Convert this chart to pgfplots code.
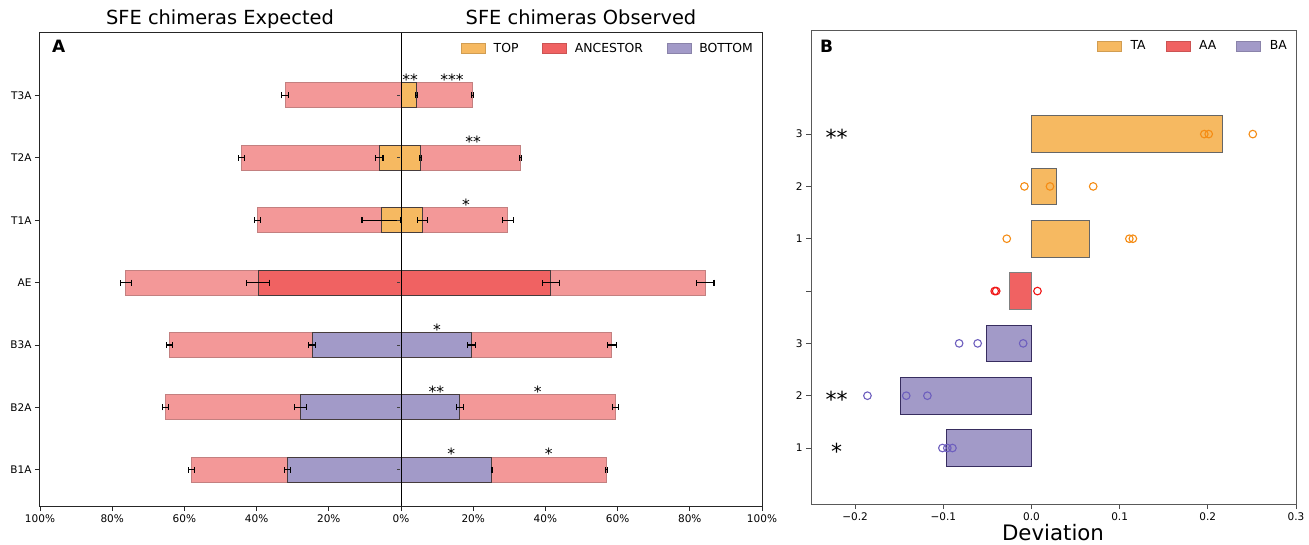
\documentclass[border=0pt]{standalone}
\usepackage{fontspec}
\setmainfont{DejaVu Sans}
\usepackage{pgfplots}
\pgfplotsset{compat=1.18}
\definecolor{pinkc}{RGB}{243,152,152}
\definecolor{pinkedge}{RGB}{195,128,128}
\definecolor{redc}{RGB}{240,98,98}
\definecolor{orangec}{RGB}{246,185,97}
\definecolor{purplec}{RGB}{162,154,200}
\definecolor{orangept}{RGB}{245,140,20}
\definecolor{redpt}{RGB}{240,20,20}
\definecolor{purplept}{RGB}{110,95,190}
\definecolor{edgec}{RGB}{70,60,60}
\begin{document}
\begin{tikzpicture}
\useasboundingbox (0,0) rectangle (1309pt,544pt);
\fill[white] (0,0) rectangle (1309pt,544pt);
\node[font=\fontsize{19.4}{20}\selectfont, anchor=base] at (220pt,519pt) {SFE chimeras Expected};
\node[font=\fontsize{19.4}{20}\selectfont, anchor=base] at (581pt,519pt) {SFE chimeras Observed};
% ---------------- Panel A ----------------
\begin{axis}[
  at={(40pt,38pt)}, anchor=south west, scale only axis,
  width=722pt, height=473pt,
  xmin=-100, xmax=100, ymin=-0.58, ymax=7,
  xtick={-100,-80,-60,-40,-20,0,20,40,60,80,100},
  xticklabels={100\%,80\%,60\%,40\%,20\%,0\%,20\%,40\%,60\%,80\%,100\%},
  ytick={0,1,2,3,4,5,6},
  yticklabels={B1A,B2A,B3A,AE,T1A,T2A,T3A},
  xtick pos=bottom, ytick pos=left,
  tick align=outside, major tick length=5pt,
  tick style={black!85, line width=0.9pt},
  ticklabel style={font=\fontsize{10.5}{12}\selectfont},
  axis line style={black!85, line width=1pt},
  bar width=0.4,
  legend columns=3,
  legend image code/.code={\draw[#1] (0pt,-5pt) rectangle (24pt,5pt);},
  legend style={draw=none, fill=none, at={(1,1)}, anchor=north east,
    xshift=-4pt, yshift=-6pt, font=\fontsize{12.4}{14}\selectfont,
    /tikz/every odd column/.append style={column sep=6pt},
    /tikz/every even column/.append style={column sep=22pt}},
  error bars/error bar style={black, line width=1.1pt},
  error bars/error mark=|,
  error bars/error mark options={black, line width=1.1pt, mark size=3pt},
]
% pink (overall) bars
\addplot[forget plot, xbar, bar shift=0pt, fill=pinkc, draw=pinkedge, line width=1pt,
  error bars/.cd, x dir=both, x explicit] coordinates {
  (-32.1,6) +- (0.9,0)
  (-44.2,5) +- (0.8,0)
  (-39.7,4) +- (0.8,0)
  (-76.2,3) +- (1.6,0)
  (-64.2,2) +- (0.8,0)
  (-65.2,1) +- (0.9,0)
  (-58.1,0) +- (0.8,0)
};
\addplot[forget plot, xbar, bar shift=0pt, fill=pinkc, draw=pinkedge, line width=1pt,
  error bars/.cd, x dir=both, x explicit] coordinates {
  (19.9,6) +- (0.3,0)
  (33.2,5) +- (0.3,0)
  (29.6,4) +- (1.5,0)
  (84.3,3) +- (2.4,0)
  (58.4,2) +- (1.2,0)
  (59.4,1) +- (0.9,0)
  (56.9,0) +- (0.2,0)
};
% TOP (orange)
\addplot[forget plot, xbar, bar shift=0pt, fill=orangec, draw=edgec, line width=1pt,
  error bars/.cd, x dir=both, x explicit] coordinates {
  (-6.0,5) +- (1.0,0)
  (-5.4,4) +- (5.4,0)
};
\addplot[forget plot, xbar, bar shift=0pt, fill=orangec, draw=edgec, line width=1pt,
  error bars/.cd, x dir=both, x explicit] coordinates {
  (4.3,6) +- (0.3,0)
  (5.4,5) +- (0.3,0)
  (6.0,4) +- (1.4,0)
};
% ANCESTOR (red)
\addplot[forget plot, xbar, bar shift=0pt, fill=redc, draw=edgec, line width=1pt,
  error bars/.cd, x dir=both, x explicit] coordinates {
  (-39.6,3) +- (3.1,0)
};
\addplot[forget plot, xbar, bar shift=0pt, fill=redc, draw=edgec, line width=1pt,
  error bars/.cd, x dir=both, x explicit] coordinates {
  (41.5,3) +- (2.4,0)
};
% BOTTOM (purple)
\addplot[forget plot, xbar, bar shift=0pt, fill=purplec, draw=edgec, line width=1pt,
  error bars/.cd, x dir=both, x explicit] coordinates {
  (-24.6,2) +- (1.0,0)
  (-27.8,1) +- (1.6,0)
  (-31.5,0) +- (0.8,0)
};
\addplot[forget plot, xbar, bar shift=0pt, fill=purplec, draw=edgec, line width=1pt,
  error bars/.cd, x dir=both, x explicit] coordinates {
  (19.5,2) +- (1.1,0)
  (16.3,1) +- (1.0,0)
  (25.2,0) +- (0.2,0)
};
% small centre ticks
\addplot[forget plot, only marks, mark=-, mark size=1.4pt, black!75, line width=0.9pt]
  coordinates {(-0.6,0) (-0.6,1) (-0.6,2) (-0.6,3) (-0.6,4) (-0.6,5) (-0.6,6)};
% centre line
\addplot[forget plot, black, line width=1pt] coordinates {(0,-0.58) (0,7)};
\addlegendimage{fill=orangec, draw=orangec!85!black}
\addlegendentry{TOP}
\addlegendimage{fill=redc, draw=redc!85!black}
\addlegendentry{ANCESTOR}
\addlegendimage{fill=purplec, draw=purplec!85!black}
\addlegendentry{BOTTOM}
% significance
\begin{scope}[every node/.style={font=\fontsize{15.5}{15.5}\selectfont, anchor=base, inner sep=0pt}]
\node at (axis cs:2.5,6.16) {**};
\node at (axis cs:14.1,6.16) {***};
\node at (axis cs:20,5.16) {**};
\node at (axis cs:18,4.16) {*};
\node at (axis cs:10,2.16) {*};
\node at (axis cs:9.8,1.16) {**};
\node at (axis cs:37.9,1.16) {*};
\node at (axis cs:13.9,0.16) {*};
\node at (axis cs:40.9,0.16) {*};
\end{scope}
\node[font=\bfseries\fontsize{17}{17}\selectfont, anchor=north west, inner sep=0pt]
  at (rel axis cs:0.0166,0.985) {A};
\end{axis}
% ---------------- Panel B ----------------
\begin{axis}[
  at={(811pt,40pt)}, anchor=south west, scale only axis,
  width=485pt, height=473.5pt,
  xmin=-0.25, xmax=0.3, ymin=-0.07, ymax=8.98,
  xtick={-0.2,-0.1,0,0.1,0.2,0.3},
  xticklabels={−0.2,−0.1,0.0,0.1,0.2,0.3},
  ytick={1,2,3,4,5,6,7},
  yticklabels={1,2,3,,1,2,3},
  xtick pos=bottom, ytick pos=left,
  tick align=outside, major tick length=5pt,
  tick style={black!70, line width=0.9pt},
  ticklabel style={font=\fontsize{10.5}{12}\selectfont},
  axis line style={black!65, line width=1pt},
  bar width=0.7,
  legend columns=3,
  legend image code/.code={\draw[#1] (0pt,-5pt) rectangle (24pt,5pt);},
  legend style={draw=none, fill=none, at={(1,1)}, anchor=north east,
    xshift=-4pt, yshift=-6pt, font=\fontsize{12.4}{14}\selectfont,
    /tikz/every odd column/.append style={column sep=7pt},
    /tikz/every even column/.append style={column sep=18pt}},
]
\addplot[forget plot, xbar, bar shift=0pt, fill=orangec, draw=black!60, line width=1pt]
  coordinates {(0.2167,7) (0.0279,6) (0.0663,5)};
\addplot[forget plot, xbar, bar shift=0pt, fill=redc, draw=black!50, line width=1pt]
  coordinates {(-0.025,4)};
\addplot[forget plot, xbar, bar shift=0pt, fill=purplec, draw={rgb,255:red,55;green,45;blue,95}, line width=1pt]
  coordinates {(-0.0505,3) (-0.1487,2) (-0.0958,1)};
\addplot[forget plot, only marks, mark=o, mark size=3.8pt, orangept, line width=1.1pt]
  coordinates {(0.196,7) (0.201,7) (0.251,7) (-0.008,6) (0.021,6) (0.070,6)
               (-0.028,5) (0.111,5) (0.115,5)};
\addplot[forget plot, only marks, mark=o, mark size=3.8pt, redpt, line width=1.1pt]
  coordinates {(-0.0417,4) (-0.040,4) (0.0068,4)};
\addplot[forget plot, only marks, mark=o, mark size=3.8pt, purplept, line width=1.1pt]
  coordinates {(-0.082,3) (-0.061,3) (-0.0094,3) (-0.186,2) (-0.142,2) (-0.118,2)
               (-0.101,1) (-0.0954,1) (-0.0896,1)};
\addlegendimage{fill=orangec, draw=orangec!85!black}
\addlegendentry{TA}
\addlegendimage{fill=redc, draw=redc!85!black}
\addlegendentry{AA}
\addlegendimage{fill=purplec, draw=purplec!85!black}
\addlegendentry{BA}
\begin{scope}[every node/.style={font=\fontsize{22}{22}\selectfont, anchor=base, inner sep=0pt}]
\node at (axis cs:-0.221,6.78) {**};
\node at (axis cs:-0.221,1.78) {**};
\node at (axis cs:-0.221,0.78) {*};
\end{scope}
\node[font=\bfseries\fontsize{17}{17}\selectfont, anchor=north west, inner sep=0pt]
  at (rel axis cs:0.0186,0.98) {B};
\end{axis}
\node[font=\fontsize{21.3}{22}\selectfont, anchor=base] at (1053pt,4pt) {Deviation};
\end{tikzpicture}
\end{document}
